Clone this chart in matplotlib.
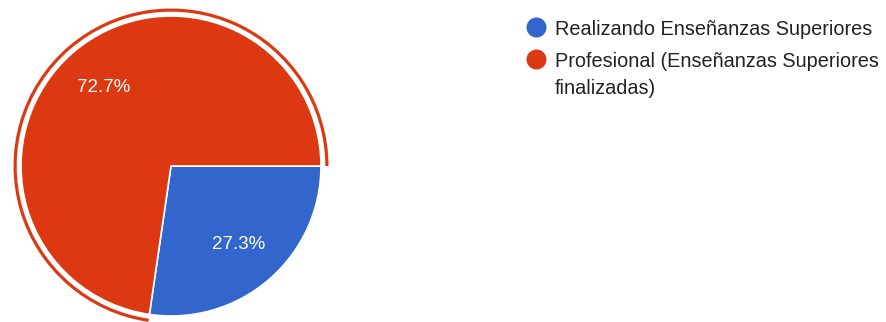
import matplotlib
matplotlib.use("Agg")
import matplotlib.pyplot as plt
from matplotlib.patches import Wedge

plt.rcParams['font.family'] = ['Liberation Sans', 'DejaVu Sans']

categories = ["Realizando Enseñanzas Superiores",
              "Profesional (Enseñanzas Superiores\nfinalizadas)"]
shares = [27.3, 72.7]
colors = ["#3366CC", "#DC3912"]

W, H = 886, 322
fig = plt.figure(figsize=(W / 100, H / 100), dpi=100)
ax = fig.add_axes([0, 0, 1, 1])
ax.set_aspect('equal')
ax.axis('off')

cx, cy, r = 171, H - 166, 150
wedges, _, autotexts = ax.pie(
    shares, colors=colors, startangle=0, counterclock=False,
    center=(cx, cy), radius=r, autopct='%1.1f%%', pctdistance=0.69,
    wedgeprops=dict(edgecolor='white', linewidth=1.2),
    textprops=dict(color='white', fontsize=13.5))
ax.set_xlim(0, W)
ax.set_ylim(0, H)

# highlight ring around the selected slice
sel = wedges[1]
ax.add_patch(Wedge((cx, cy), r + 7.5, sel.theta1, sel.theta2, width=3.2,
                   facecolor=colors[1], edgecolor='none'))

# legend
marker_y = [H - 27, H - 59]
text_base = [H - 35, H - 67]
lx = 536
for lab, col, my, ty in zip(categories, colors, marker_y, text_base):
    ax.plot([lx], [my], 'o', color=col, markersize=14.4, markeredgewidth=0)
    for k, line in enumerate(lab.split('\n')):
        ax.text(lx + 19, ty - 27 * k, line, fontsize=14.3, color='#222222',
                va='baseline', ha='left')

fig.savefig("out.png", dpi=100)
